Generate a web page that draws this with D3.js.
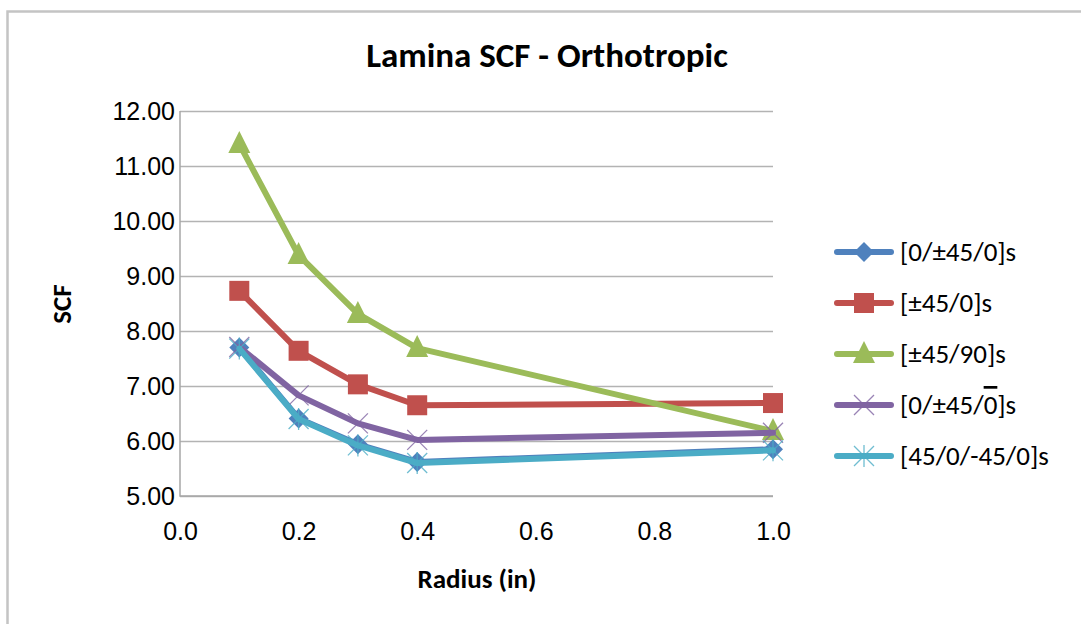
<!DOCTYPE html>
<html>
<head>
<meta charset="utf-8">
<script src="https://cdn.jsdelivr.net/npm/d3@7"></script>
<style>
  body { margin: 0; background: #fff; }
  svg { display: block; font-family: Carlito, Calibri, Lato, sans-serif; }
</style>
</head>
<body>
<script>
// 画布尺寸
let width = 1081;
let height = 624;

// 绘图区
let plot = { left: 180, right: 773, top: 111, bottom: 496 };

// 数据
const radius = [0.1, 0.2, 0.3, 0.4, 1.0];
const seriesNames = ['[0/±45/0]s', '[±45/0]s', '[±45/90]s', '[0/±45/{0}]s', '[45/0/-45/0]s'];
const scf0 = [7.70, 6.41, 5.94, 5.62, 5.85];
const scf1 = [8.73, 7.64, 7.03, 6.65, 6.69];
const scf2 = [11.40, 9.38, 8.31, 7.69, 6.18];
const scf3 = [7.71, 6.83, 6.32, 6.02, 6.15];
const scf4 = [7.68, 6.40, 5.92, 5.60, 5.83];
const xTicks = [0, 0.2, 0.4, 0.6, 0.8, 1.0];
const yTicks = [5, 6, 7, 8, 9, 10, 11, 12];

const colors = ['#4F81BD', '#C0504D', '#9BBB59', '#8064A2', '#4BACC6'];
const markers = ['diamond', 'square', 'triangle', 'x', 'star'];
const values = [scf0, scf1, scf2, scf3, scf4];

let series = seriesNames.map((name, i) => ({
  name: name,
  color: colors[i],
  marker: markers[i],
  points: radius.map((r, j) => ({ r: r, v: values[i][j] })),
}));

let x = d3.scaleLinear()
  .domain([0, 1])
  .range([plot.left, plot.right]);

let y = d3.scaleLinear()
  .domain([5, 12])
  .range([plot.bottom, plot.top]);

let svg = d3.select('body')
  .append('svg')
  .attr('width', width)
  .attr('height', height);

// 图表外框
svg.append('rect')
  .attr('x', 7.5)
  .attr('y', 11.5)
  .attr('width', 1200)
  .attr('height', 1000)
  .attr('fill', '#fff')
  .attr('stroke', '#c4c4c4')
  .attr('stroke-width', 2.5);

// 标题
svg.append('text')
  .attr('x', 547)
  .attr('y', 67)
  .attr('text-anchor', 'middle')
  .attr('font-size', 35)
  .attr('font-weight', 'bold')
  .text('Lamina SCF - Orthotropic');

// 网格线 + y轴
let yAxis = g => g
  .attr('transform', `translate(${plot.left},0)`)
  .call(d3.axisLeft(y).tickValues(yTicks).tickFormat(d3.format('.2f'))
    .tickSize(-(plot.right - plot.left)).tickPadding(5))
  .call(g => g.select('.domain').remove())
  .call(g => g.selectAll('.tick line')
    .attr('stroke', '#b3b3b3')
    .attr('stroke-width', 1.5))
  .call(g => g.selectAll('.tick text')
    .attr('font-size', 25)
    .attr('font-family', null)
    .attr('fill', '#000'));

let xAxis = g => g
  .attr('transform', `translate(0,${plot.bottom})`)
  .call(d3.axisBottom(x).tickValues(xTicks).tickFormat(d3.format('.1f'))
    .tickSize(0).tickPadding(26))
  .call(g => g.select('.domain').remove())
  .call(g => g.selectAll('.tick text')
    .attr('font-size', 25)
    .attr('font-family', null)
    .attr('fill', '#000'));

svg.append('g').attr('class', 'y-axis').call(yAxis);
svg.append('g').attr('class', 'x-axis').call(xAxis);

// 坐标轴线
svg.append('path')
  .attr('d', `M${plot.left},${plot.top}V${plot.bottom}H${plot.right}`)
  .attr('fill', 'none')
  .attr('stroke', '#a6a6a6')
  .attr('stroke-width', 1.5);

// 轴标题
svg.append('text')
  .attr('x', 477)
  .attr('y', 588)
  .attr('text-anchor', 'middle')
  .attr('font-size', 27)
  .attr('font-weight', 'bold')
  .text('Radius (in)');

svg.append('text')
  .attr('transform', 'translate(71,304) rotate(-90)')
  .attr('text-anchor', 'middle')
  .attr('font-size', 27)
  .attr('font-weight', 'bold')
  .text('SCF');

// 标记形状
function markerPath(type) {
  switch (type) {
    case 'diamond': return 'M0,-10L10,0L0,10L-10,0Z';
    case 'square': return 'M-10,-10H10V10H-10Z';
    case 'triangle': return 'M0,-13L11,9H-11Z';
    case 'x': return 'M-10,-10L10,10M-10,10L10,-10';
    case 'star': return 'M-10,-10L10,10M-10,10L10,-10M0,-11V11';
  }
}

function drawMarker(g, s) {
  let thin = s.marker === 'x' || s.marker === 'star';
  g.append('path')
    .attr('d', markerPath(s.marker))
    .attr('fill', thin ? 'none' : s.color)
    .attr('stroke', s.color)
    .attr('stroke-width', thin ? 1.3 : 0)
    .attr('opacity', thin ? 0.8 : 1);
}

let line = d3.line()
  .x(d => x(d.r))
  .y(d => y(d.v));

// 折线和标记
series.forEach(s => {
  let g = svg.append('g');
  g.append('path')
    .datum(s.points)
    .attr('d', line)
    .attr('fill', 'none')
    .attr('stroke', s.color)
    .attr('stroke-width', 6)
    .attr('stroke-linejoin', 'round')
    .attr('stroke-linecap', 'round');
  g.selectAll('g.mark')
    .data(s.points)
    .enter()
    .append('g')
    .attr('class', 'mark')
    .attr('transform', d => `translate(${x(d.r)},${y(d.v)})`)
    .each(function () { drawMarker(d3.select(this), s); });
});

// 图例
let legend = svg.append('g');
series.forEach((s, i) => {
  let cy = 252 + i * 51;
  legend.append('line')
    .attr('x1', 837).attr('x2', 891)
    .attr('y1', cy).attr('y2', cy)
    .attr('stroke', s.color)
    .attr('stroke-width', 6)
    .attr('stroke-linecap', 'round');
  let m = legend.append('g').attr('transform', `translate(864,${cy})`);
  drawMarker(m, s);

  // {..} 部分加上划线
  let t = legend.append('text')
    .attr('x', 900)
    .attr('y', cy + 9)
    .attr('font-size', 27);
  s.name.split(/(\{[^}]*\})/).filter(p => p).forEach(p => {
    let over = p.startsWith('{');
    t.append('tspan')
      .text(over ? p.slice(1, -1) : p)
      .style('text-decoration', over ? 'overline' : null);
  });
});
</script>
</body>
</html>
